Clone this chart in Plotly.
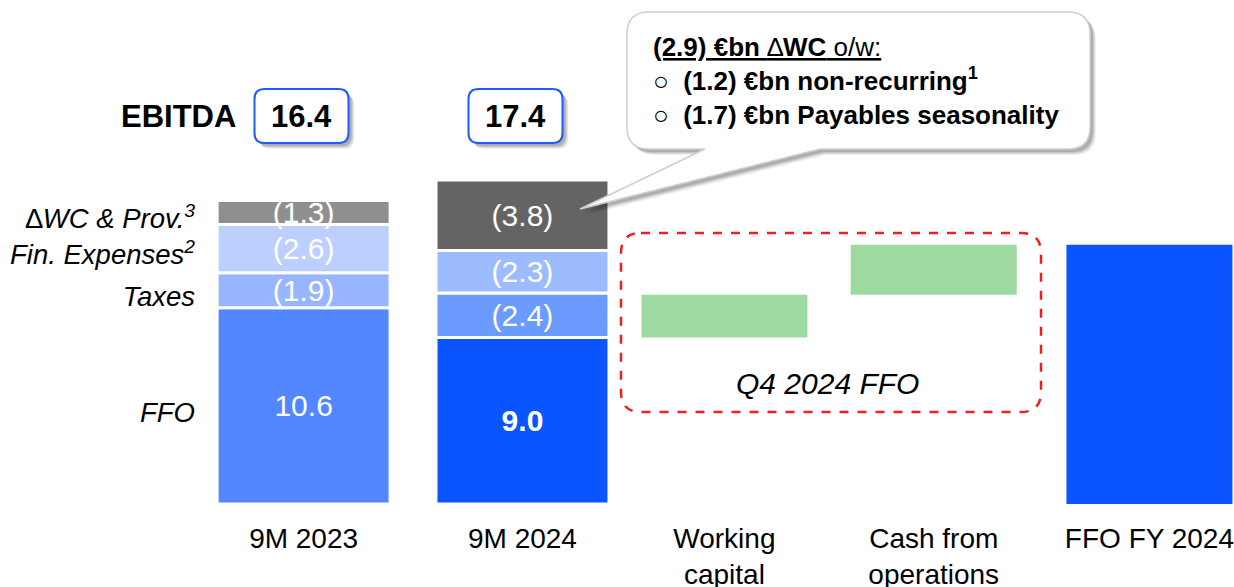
import numpy as np
import plotly.graph_objects as go

# categories on the x axis and their slot positions (slightly uneven, as in the slide)
categories = ["9M 2023", "9M 2024", "Working<br>capital", "Cash from<br>operations", "FFO FY 2024"]
x_pos = [0.0, 1.035, 1.99, 2.98, 4.0]

# 9M stacks (EUR bn)
ffo = [10.6, 9.0]
taxes = [1.9, 2.4]
fin_expenses = [2.6, 2.3]
delta_wc = [1.3, 3.8]
ebitda = [16.4, 17.4]

# Q4 2024 bridge steps (no labels in the picture, estimated)
q4_steps = [2.3, 2.7]

segment_labels = ["<i>FFO</i>", "<i>Taxes</i>", "<i>Fin. Expenses<sup>2</sup></i>",
                  "\u2206<i>WC & Prov.<sup>3</sup></i>"]

callout_lines = [
    "<span style='text-decoration:underline'><b>(2.9) \u20acbn </b>\u2206<b>WC</b> o/w:</span>",
    "\u25cb  <b>(1.2) \u20acbn non-recurring<sup>1</sup></b>",
    "\u25cb  <b>(1.7) \u20acbn Payables seasonality</b>",
]

FONT = "Arial, Liberation Sans, sans-serif"
WHITE_SEP = dict(color="white", width=3)

# colours per period
ffo_colors = ["#5287FF", "#0A55FF"]
tax_colors = ["#97B6FF", "#6B9BFF"]
fin_colors = ["#BCCFFF", "#9DBBFF"]
wc_colors = ["#8F8F8F", "#646464"]
green = "#9DD9A0"

# pixel helpers (margins are 0 left/right/top, so paper == page for x)
PAGE_W, PLOT_H = 1234, 504


def px(x):
    return x / PAGE_W


def py(y):
    return (PLOT_H - y) / PLOT_H


def rrect_path(x0, y0, x1, y1, r, tail=None):
    pts = [f"M {px(x0 + r)},{py(y0)}", f"L {px(x1 - r)},{py(y0)}",
           f"Q {px(x1)},{py(y0)} {px(x1)},{py(y0 + r)}", f"L {px(x1)},{py(y1 - r)}",
           f"Q {px(x1)},{py(y1)} {px(x1 - r)},{py(y1)}"]
    if tail:
        (bx1, bx0, tx, ty) = tail
        pts += [f"L {px(bx1)},{py(y1)}", f"L {px(tx)},{py(ty)}", f"L {px(bx0)},{py(y1)}"]
    pts += [f"L {px(x0 + r)},{py(y1)}", f"Q {px(x0)},{py(y1)} {px(x0)},{py(y1 - r)}",
            f"L {px(x0)},{py(y0 + r)}", f"Q {px(x0)},{py(y0)} {px(x0 + r)},{py(y0)} Z"]
    return " ".join(pts)


def with_shadow(shapes, x0, y0, x1, y1, r, line, tail=None):
    for off, a in [(6, 0.06), (5, 0.08), (4, 0.10), (3, 0.12)]:
        t = None
        if tail:
            t = (tail[0] + off, tail[1] + off, tail[2] + off, tail[3] + off)
        shapes.append(dict(type="path", xref="paper", yref="paper", layer="above",
                           path=rrect_path(x0 + off, y0 + off, x1 + off, y1 + off, r, t),
                           fillcolor=f"rgba(0,0,0,{a})", line=dict(width=0)))
    shapes.append(dict(type="path", xref="paper", yref="paper", layer="above",
                       path=rrect_path(x0, y0, x1, y1, r, tail),
                       fillcolor="white", line=line))


fig = go.Figure()

# stacked segments with explicit bases
periods_x = x_pos[:2]
base_tax = np.array(ffo)
base_fin = base_tax + np.array(taxes)
base_wc = base_fin + np.array(fin_expenses)

seg_w = 0.818
txt_font = dict(family=FONT, size=30, color="white")
fig.add_trace(go.Bar(x=periods_x, y=ffo, base=[0, 0], width=seg_w,
                     marker=dict(color=ffo_colors, line=WHITE_SEP),
                     text=[f"{ffo[0]:.1f}", f"<b>{ffo[1]:.1f}</b>"]))
fig.add_trace(go.Bar(x=periods_x, y=taxes, base=base_tax, width=seg_w,
                     marker=dict(color=tax_colors, line=WHITE_SEP),
                     text=[f"({v:.1f})" for v in taxes]))
fig.add_trace(go.Bar(x=periods_x, y=fin_expenses, base=base_fin, width=seg_w,
                     marker=dict(color=fin_colors, line=WHITE_SEP),
                     text=[f"({v:.1f})" for v in fin_expenses]))
fig.add_trace(go.Bar(x=periods_x, y=delta_wc, base=base_wc, width=seg_w,
                     marker=dict(color=wc_colors, line=WHITE_SEP),
                     text=[f"({v:.1f})" for v in delta_wc]))
fig.update_traces(textposition="inside", insidetextanchor="middle", textangle=0,
                  constraintext="none", textfont=txt_font, cliponaxis=False,
                  hoverinfo="skip")

# Q4 bridge
q4_base = ffo[1] + np.concatenate([[0], np.cumsum(q4_steps)[:-1]])
fig.add_trace(go.Bar(x=x_pos[2:4], y=q4_steps, base=q4_base, width=0.785,
                     marker=dict(color=green, line=dict(width=0)), hoverinfo="skip"))
ffo_fy = ffo[1] + sum(q4_steps)
fig.add_trace(go.Bar(x=[x_pos[4]], y=[ffo_fy], base=[0], width=0.785,
                     marker=dict(color="#0A55FF", line=dict(width=0)), hoverinfo="skip"))

# left labels at midpoints of the 2023 stack
mids = [ffo[0] / 2, base_tax[0] + taxes[0] / 2, base_fin[0] + fin_expenses[0] / 2,
        base_wc[0] + delta_wc[0] / 2]

shapes = []
annotations = []

# EBITDA boxes
for i, v in enumerate(ebitda):
    cx = 301.5 + i * 214
    with_shadow(shapes, cx - 47, 89, cx + 47, 143, 10, dict(color="#1F5BFF", width=2))
    annotations.append(dict(x=px(cx), y=py(117), xref="paper", yref="paper",
                            xanchor="center", yanchor="middle", text=f"<b>{v:.1f}</b>",
                            showarrow=False, font=dict(family=FONT, size=31, color="black")))
annotations.append(dict(x=px(238), y=py(117), xref="paper", yref="paper", xanchor="right",
                        yanchor="middle", text="<b>EBITDA</b>", showarrow=False,
                        font=dict(family=FONT, size=31, color="black")))

# red dashed box for Q4
shapes.append(dict(type="path", xref="paper", yref="paper", layer="above",
                   path=rrect_path(621, 233, 1041, 412, 20),
                   line=dict(color="#F01E1E", width=2.5, dash="dash")))
annotations.append(dict(x=px(827), y=py(383), xref="paper", yref="paper", showarrow=False,
                        xanchor="center", yanchor="middle", text="<i>Q4 2024 FFO</i>",
                        font=dict(family=FONT, size=30, color="black")))

# callout
with_shadow(shapes, 627, 12, 1090, 149, 22, dict(color="#CFCFCF", width=1.5),
            tail=(820, 705, 580, 209))
annotations.append(dict(x=px(651), y=py(81), xref="paper", yref="paper", xanchor="left",
                        yanchor="middle", align="left", showarrow=False,
                        text="<br>".join(callout_lines),
                        font=dict(family=FONT, size=26, color="black")))

fig.update_layout(
    width=1234, height=587,
    barmode="overlay",
    showlegend=False,
    plot_bgcolor="white", paper_bgcolor="white",
    margin=dict(l=0, r=0, t=0, b=83, autoexpand=False),
    font=dict(family=FONT, color="black"),
    shapes=shapes,
    annotations=annotations,
    xaxis=dict(domain=[200 / PAGE_W, 1], range=[-0.49, 4.40], showgrid=False,
               showline=False, zeroline=False, ticks="", tickvals=x_pos,
               ticktext=categories, ticklabelstandoff=15,
               tickfont=dict(family=FONT, size=28, color="black"), automargin=False),
    yaxis=dict(domain=[0, 1], range=[0, 27.23], showgrid=False, zeroline=False,
               showline=False, ticks="", tickvals=mids, ticktext=segment_labels,
               ticklabelstandoff=4, ticklabelshift=6,
               tickfont=dict(family=FONT, size=27.5, color="black"),
               automargin=False),
)

# the page body has a default 8px margin; drop it so the figure sits at 0,0
fig.write_html("out.html", config={"displayModeBar": False},
               post_script="document.body.style.margin='0';")
